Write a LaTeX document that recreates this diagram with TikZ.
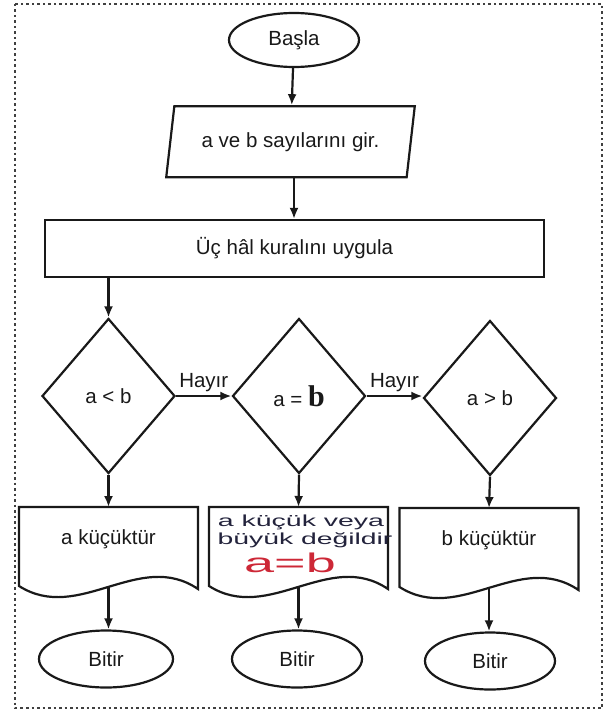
\documentclass[tikz,border=0pt]{standalone}
\usepackage{fontspec}
\setmainfont{Liberation Sans}
\newfontfamily\serifb{Liberation Serif}
\usetikzlibrary{shapes.geometric,arrows.meta,calc}
\definecolor{ink}{RGB}{25,25,25}
\definecolor{pencil}{RGB}{35,35,60}
\definecolor{redpen}{RGB}{205,40,55}
\begin{document}
\begin{tikzpicture}[x=1pt,y=-1pt,
  every node/.style={font=\fontsize{20.5}{24}\selectfont, text=ink},
  line/.style={draw=ink, line width=2.2pt},
  arrow/.style={line, -{Latex[length=11pt,width=9pt]}},
  term/.style={ellipse, line, inner sep=0pt},
  io/.style={trapezium, line, trapezium left angle=72, trapezium right angle=108,
    trapezium stretches=true, minimum width=249pt, minimum height=71pt, inner sep=0pt},
  proc/.style={rectangle, line, minimum width=499pt, minimum height=57pt, inner sep=0pt},
  test/.style={diamond, line, minimum width=133pt, minimum height=155pt, inner sep=0pt},
  docbox/.style={rectangle, minimum width=179pt, minimum height=64pt, inner sep=0pt, outer sep=0pt, anchor=north},
  hand/.style={text=pencil, inner sep=0pt},
  lbl/.style={above, inner sep=3pt}
]
\useasboundingbox (0,0) rectangle (611,717);

% dashed outer frame
\draw[black!75, line width=2pt, dash pattern=on 2.5pt off 3pt] (15,4) rectangle (602,708);

% start, input and process
\node[term, minimum width=130pt, minimum height=54pt] (start) at (294,40) {Başla};
\node[io] (input) at (290.5,141.75) {a ve b sayılarını gir.};
\node[proc] (rule) at (294.5,248.5) {Üç hâl kuralını uygula};

% decisions
\node[test] (lt) at (108.5,396) {a < b};
\node[test] (eq) at (299,396) {a = {\serifb\bfseries\fontsize{30}{30}\selectfont b}};
\node[test] (gt) at (490,398) {a > b};

% documents
\newcommand{\docoutline}[1]{%
  \draw[line] (#1.north west) -- (#1.north east) -- ($(#1.north east)+(0,82)$)
    .. controls +(-59,-40) and +(60,38) .. ($(#1.north west)+(0,79)$) -- cycle;
  \coordinate (#1b) at ($(#1.north)+(0,80)$);}
\node[docbox] (dlt) at (108.5,507) {a küçüktür};
\node[docbox] (deq) at (298.5,507) {};
\node[docbox] (dgt) at (489,508) {b küçüktür};
\docoutline{dlt}
\docoutline{deq}
\docoutline{dgt}

% handwritten note in the middle document
\node[hand, font=\fontsize{16}{18}\selectfont] (n1) at (301,522) {\scalebox{1.78}[1]{a küçük veya}};
\node[hand, font=\fontsize{16}{18}\selectfont] (n2) at (305,540) {\scalebox{1.77}[1]{büyük değildir}};
\node[hand, text=redpen, font=\fontsize{27}{27}\selectfont] (n3) at (290,563) {\scalebox{2}[1]{a=b}};

% terminals
\node[term, minimum width=134pt, minimum height=57pt] (end1) at (106,659) {Bitir};
\node[term, minimum width=130pt, minimum height=57pt] (end2) at (297,659) {Bitir};
\node[term, minimum width=130pt, minimum height=57pt] (end3) at (490,661) {Bitir};

% connectors
\draw[arrow] (start) -- (input);
\draw[arrow] (input.south -| start) -- (rule.north -| start);
\draw[arrow] (rule.south -| lt.north) -- (lt.north);
\draw[arrow] (lt.east) -- node[lbl] {Hayır} (eq.west);
\draw[arrow] (eq.east) -- node[lbl] {Hayır} (gt.west |- eq.east);
\draw[arrow] (lt.south) -- (dlt.north);
\draw[arrow] (eq.south) -- (deq.north);
\draw[arrow] (gt.south) -- (dgt.north);
\draw[arrow] (dltb) -- (dltb |- end1.north);
\draw[arrow] (deqb) -- (deqb |- end2.north);
\draw[arrow] (dgtb) -- (dgtb |- end3.north);
\end{tikzpicture}
\end{document}
